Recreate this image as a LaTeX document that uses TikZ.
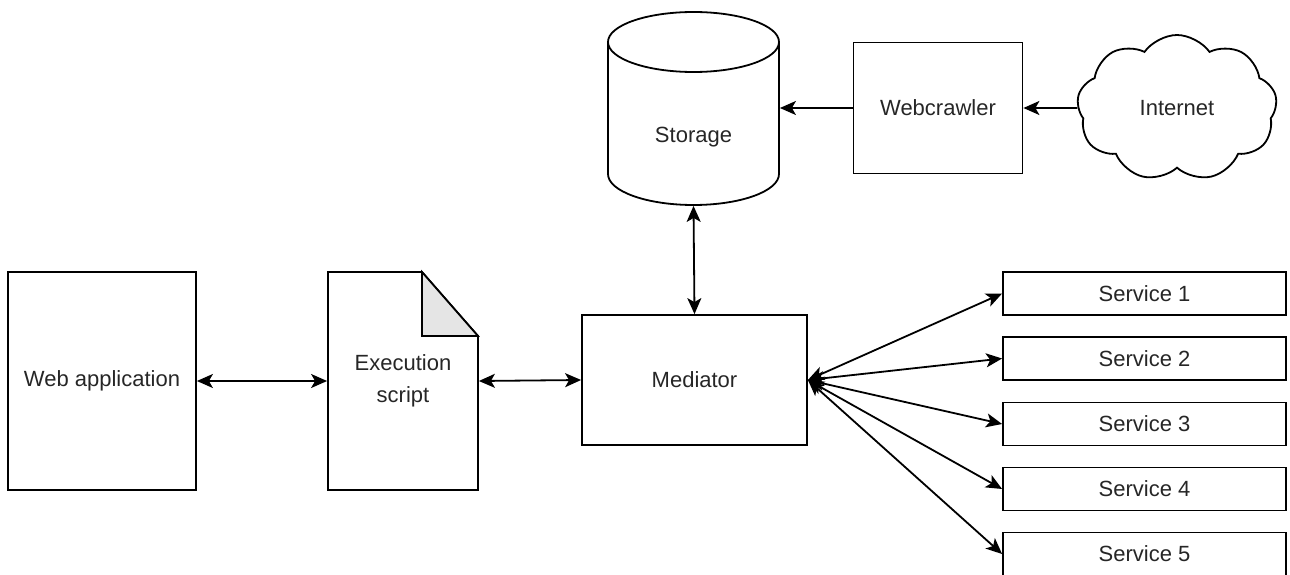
\documentclass[tikz,border=0pt]{standalone}
\usepackage{fontspec}
\setmainfont{Liberation Sans}
\usetikzlibrary{arrows.meta,shapes.symbols}
\begin{document}
\begin{tikzpicture}[x=1pt,y=-1pt,
  line width=1.8pt,
  box/.style={draw, rectangle, inner sep=0pt, font=\fontsize{22}{32}\selectfont, text=black!85},
  ghost/.style={rectangle, inner sep=0pt, font=\fontsize{22}{32}\selectfont, text=black!85, align=center},
  tip/.style={Stealth[length=16pt,width=14pt,inset=4pt]},
  arr/.style={-{Stealth[length=16pt,width=14pt,inset=4pt]}},
  darr/.style={{Stealth[length=16pt,width=14pt,inset=4pt]}-{Stealth[length=16pt,width=14pt,inset=4pt]}}]
\useasboundingbox (0,0) rectangle (1290,575);
% storage cylinder
\node[ghost, minimum width=171pt, minimum height=193pt] (storage) at (693.5,108.5) {};
\draw (608,42) arc[start angle=180, end angle=-180, x radius=85.5pt, y radius=30pt];
\draw (608,42) -- (608,174) arc[start angle=180, end angle=360, x radius=85.5pt, y radius=31pt] -- (779,42);
\node[ghost] at (693.5,137) {Storage};
% webcrawler
\node[box, minimum width=169pt, minimum height=131pt] (crawler) at (938,108) {Webcrawler};
% internet cloud
\node[draw, cloud, cloud puffs=9, cloud puff arc=110, cloud ignores aspect, minimum width=200pt, minimum height=146pt, inner sep=0pt, font=\fontsize{22}{32}\selectfont, text=black!85] (internet) at (1177,108) {Internet};
% web application
\node[box, minimum width=188pt, minimum height=218pt] (webapp) at (102,381) {Web application};
% execution script (note)
\node[ghost, minimum width=150pt, minimum height=218pt] (exec) at (403,381) {Execution\\script};
\draw (328,272) -- (422,272) -- (478,336) -- (478,490) -- (328,490) -- cycle;
\draw[fill=black!10] (422,272) -- (422,336) -- (478,336) -- cycle;
% mediator
\node[box, minimum width=225pt, minimum height=130pt] (mediator) at (694.5,380) {Mediator};
% services
\foreach \i/\y in {1/293.5, 2/358.5, 3/424, 4/489, 5/554}{
  \node[box, minimum width=283pt, minimum height=43pt] (s\i) at (1144.5,\y) {Service \i};
}
% connectors
\draw[arr] (crawler.west) -- (storage.east |- crawler.west);
\draw[arr] (internet.west) -- (crawler.east);
\draw[darr] (storage.south) -- (mediator.north);
\draw[darr] (webapp.east) -- (exec.west);
\draw[darr] (exec.east) -- (mediator.west);
\foreach \i in {1,...,5}{
  \draw[darr] (mediator.east) -- (s\i.west);
}
\end{tikzpicture}
\end{document}
